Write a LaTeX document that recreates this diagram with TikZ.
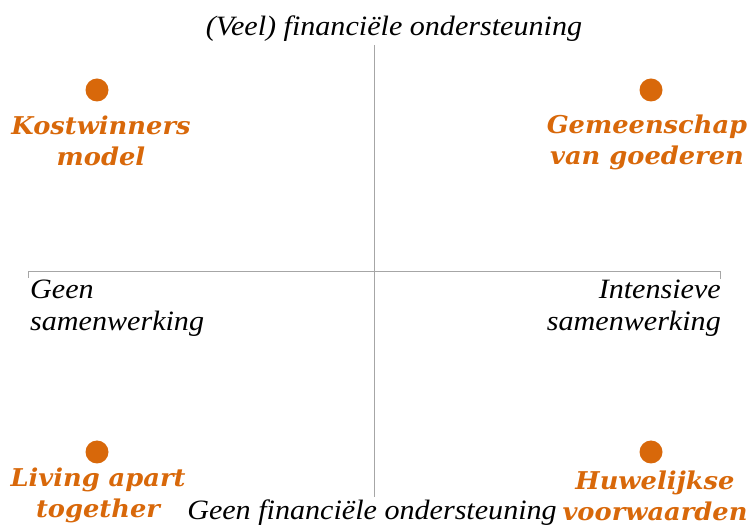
\documentclass[tikz,border=0pt]{standalone}
\usepackage{fontspec}
\setmainfont{Liberation Serif}
\newfontfamily\axser[FakeStretch=1.075]{Liberation Serif}
\newfontfamily\boldser[FakeStretch=1.05]{DejaVu Serif}
\definecolor{dotorange}{HTML}{D8680A}
\definecolor{axisgray}{HTML}{A6A6A6}
\tikzset{
  axis/.style={draw=axisgray, line width=0.9pt},
  dot/.style={circle, fill=dotorange, draw=none, minimum size=23pt, inner sep=0pt},
  quad/.style={text=dotorange, align=center, inner sep=0pt,
     font=\boldser\bfseries\itshape\fontsize{24.5}{31}\selectfont},
  axlabel/.style={inner sep=0pt, font=\axser\itshape\fontsize{28}{32}\selectfont},
}
\begin{document}
\begin{tikzpicture}[x=1pt,y=-1pt]
\useasboundingbox (0,0) rectangle (753,526);
% axes
\coordinate (top) at (374,45);
\coordinate (bot) at (374,497);
\coordinate (lt) at (28,278);
\coordinate (lc) at (28,271);
\coordinate (rc) at (720,271);
\coordinate (rt) at (720,279);
\draw[axis] (top) -- (bot);
\draw[axis] (lt) -- (lc) -- (rc) -- (rt);
% axis labels
\node[axlabel, anchor=center] (ttl) at (394,29) {(Veel) financiële ondersteuning};
\node[axlabel, anchor=center] (btl) at (372,513) {Geen financiële ondersteuning};
\node[axlabel, align=left, anchor=west] (geen) at (30,308) {Geen\\samenwerking};
\node[axlabel, align=right, anchor=east] (int) at (721,308) {Intensieve\\samenwerking};
% dots
\node[dot] (d1) at (97,90) {};
\node[dot] (d2) at (651,90) {};
\node[dot] (d3) at (97,452) {};
\node[dot] (d4) at (651,452) {};
% quadrant labels
\node[quad] (q1) at (101,141) {Kostwinners\\model};
\node[quad] (q2) at (647,142) {Gemeenschap\\van goederen};
\node[quad] (q3) at (98,495) {Living apart\\together};
\node[quad] (q4) at (655,496) {Huwelijkse\\voorwaarden};
\end{tikzpicture}
\end{document}
